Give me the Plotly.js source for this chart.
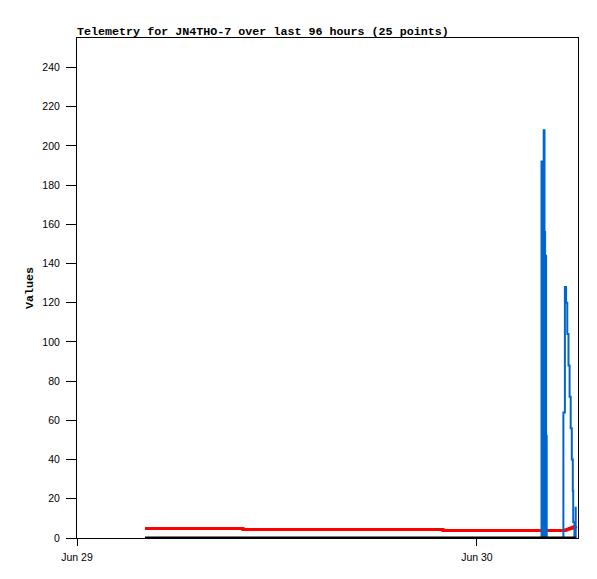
<!DOCTYPE html>
<html>
<head>
<meta charset="utf-8">
<script src="https://cdn.plot.ly/plotly-3.0.1.min.js"></script>
<style>
html,body{margin:0;padding:0;background:#fff;}
#chart{width:597px;height:579px;}
</style>
</head>
<body>
<div id="chart"></div>
<script>
// 25 telemetry points
var times = [
  '2024-06-29 04:05:00', '2024-06-29 09:58:00', '2024-06-29 21:58:00',
  '2024-06-30 03:52:34', '2024-06-30 03:55:05', '2024-06-30 03:56:53', '2024-06-30 03:58:41',
  '2024-06-30 04:00:29', '2024-06-30 04:03:22', '2024-06-30 04:05:31', '2024-06-30 04:06:58',
  '2024-06-30 04:09:07', '2024-06-30 04:11:17',
  '2024-06-30 05:11:24', '2024-06-30 05:16:48', '2024-06-30 05:21:07', '2024-06-30 05:25:26',
  '2024-06-30 05:29:46', '2024-06-30 05:33:43', '2024-06-30 05:37:41', '2024-06-30 05:41:38',
  '2024-06-30 05:45:14', '2024-06-30 05:46:48', '2024-06-30 05:51:07', '2024-06-30 05:55:48'
];
var blueValues = [
  0, 0, 0,
  192, 144, 0, 144,
  208, 156, 0, 144,
  52, 0,
  64, 128, 120, 104,
  88, 72, 56, 40,
  24, 8, 0, 16
];
var redValues = [
  4.8, 4.3, 3.8,
  3.8, 3.8, 3.8, 3.8,
  3.8, 3.8, 3.8, 3.8,
  3.8, 3.8,
  3.8, 4.0, 4.2, 4.4,
  4.6, 4.8, 5.0, 5.2,
  5.4, 5.6, 5.8, 6.0
];
var blackValues = [
  0, 0, 0, 0, 0, 0, 0, 0, 0, 0, 0, 0, 0,
  0, 0, 0, 0, 0, 0, 0, 0, 0, 0, 0, 0
];
var xTickVals = ['2024-06-29 00:00', '2024-06-30 00:00'];
var xTickText = ['Jun 29', 'Jun 30'];
var yTickVals = [0, 20, 40, 60, 80, 100, 120, 140, 160, 180, 200, 220, 240];

var traces = [
  {x: times, y: redValues, type: 'scatter', mode: 'lines',
   line: {color: '#ff0000', width: 3, shape: 'hv'}, hoverinfo: 'none'},
  {x: times, y: blueValues, type: 'scatter', mode: 'lines',
   line: {color: '#0066cc', width: 2, shape: 'hv'}, hoverinfo: 'none'},
  {x: times, y: blackValues, type: 'scatter', mode: 'lines',
   line: {color: '#000000', width: 3, shape: 'hv'}, hoverinfo: 'none'}
];

var monoBold = 'Liberation Mono, DejaVu Sans Mono, monospace';
var layout = {
  width: 597, height: 579,
  margin: {l: 77, r: 19, t: 38, b: 41, pad: 0},
  paper_bgcolor: '#ffffff', plot_bgcolor: '#ffffff',
  showlegend: false,
  title: {text: '<b>Telemetry for JN4THO-7 over last 96 hours (25 points)</b>',
          font: {family: monoBold, size: 11.7, color: '#000'},
          x: 77/597, xanchor: 'left', y: 1 - 35/579, yanchor: 'bottom', yref: 'container'},
  xaxis: {
    type: 'date',
    range: ['2024-06-29 00:00', '2024-06-30 06:04'],
    tickmode: 'array', tickvals: xTickVals, ticktext: xTickText,
    ticks: 'outside', ticklen: 7, tickwidth: 1, tickcolor: '#000',
    showgrid: false, zeroline: false,
    showline: true, linecolor: '#000', linewidth: 1, mirror: true,
    ticklabelstandoff: 2,
    tickfont: {family: 'Liberation Sans, Arial, sans-serif', size: 10.5, color: '#000'}
  },
  yaxis: {
    range: [0, 255],
    tickmode: 'array', tickvals: yTickVals,
    ticks: 'outside', ticklen: 10, tickwidth: 1, tickcolor: '#000',
    showgrid: false, zeroline: false,
    showline: true, linecolor: '#000', linewidth: 1, mirror: true,
    ticklabelstandoff: 4,
    tickfont: {family: 'Liberation Sans, Arial, sans-serif', size: 10.5, color: '#000'},
    title: {text: '<b>Values</b>', font: {family: monoBold, size: 11.7, color: '#000'}, standoff: 6}
  }
};
Plotly.newPlot('chart', traces, layout, {staticPlot: true, displayModeBar: false});
</script>
</body>
</html>
